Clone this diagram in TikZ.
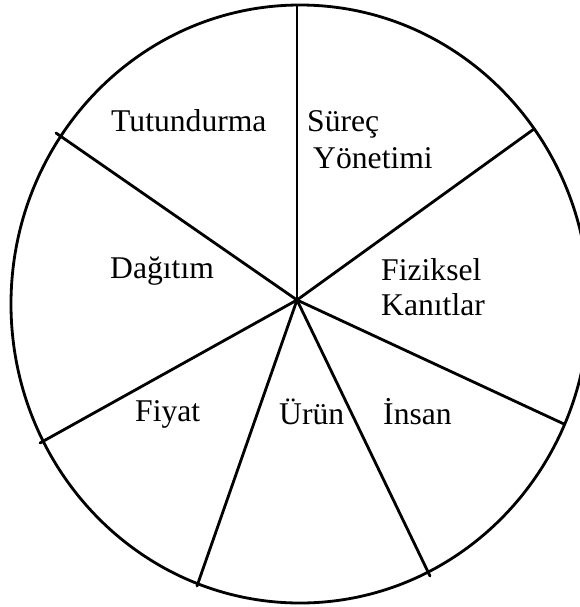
\documentclass[tikz,border=0pt]{standalone}
\usepackage{fontspec}
\setmainfont{Liberation Serif}
\tikzset{
  sector/.style={line width=2.4pt,line cap=round},
  sectorlabel/.style={anchor=base west,inner sep=0pt,font=\fontsize{27}{27}\selectfont}
}
\begin{document}
\begin{tikzpicture}[x=0.03cm,y=-0.03cm]
                \useasboundingbox (0,0) rectangle (580,607);
                \clip (0,0) rectangle (580,607);
                \coordinate (Hub) at (297,300);
                \coordinate (Middle) at (300,304);
                \coordinate (TopEnd) at (297,5);
                \coordinate (UpperRightEnd) at (534,129);
                \coordinate (RightEnd) at (564,424);
                \coordinate (LowerRightEnd) at (430,576);
                \coordinate (LowerLeftEnd) at (197,586);
                \coordinate (LeftEnd) at (40,443);
                \coordinate (UpperLeftEnd) at (56,133);

                \draw[sector] (Middle) ellipse[x radius=289,y radius=299];
                \draw[sector,line width=1.8pt] (Hub)--(TopEnd);
                \draw[sector] (Hub)--(UpperRightEnd);
                \draw[sector] (Hub)--(RightEnd);
                \draw[sector] (Hub)--(LowerRightEnd);
                \draw[sector] (Hub)--(LowerLeftEnd);
                \draw[sector] (Hub)--(LeftEnd);
                \draw[sector] (Hub)--(UpperLeftEnd);

                \node[sectorlabel] (Tutundurma) at (111,131) {Tutundurma};
                \node[sectorlabel] (Surec) at (307,131) {Süreç};
                \node[sectorlabel] (Yonetimi) at (313,168) {Yönetimi};
                \node[sectorlabel] (Dagitim) at (110,278) {Dağıtım};
                \node[sectorlabel] (Fiziksel) at (381,280) {Fiziksel};
                \node[sectorlabel] (Kanitlar) at (381,315) {Kanıtlar};
                \node[sectorlabel] (Fiyat) at (135,421) {Fiyat};
                \node[sectorlabel] (Urun) at (279,424) {Ürün};
                \node[sectorlabel] (Insan) at (383,424) {İnsan};
            \end{tikzpicture}
\end{document}
